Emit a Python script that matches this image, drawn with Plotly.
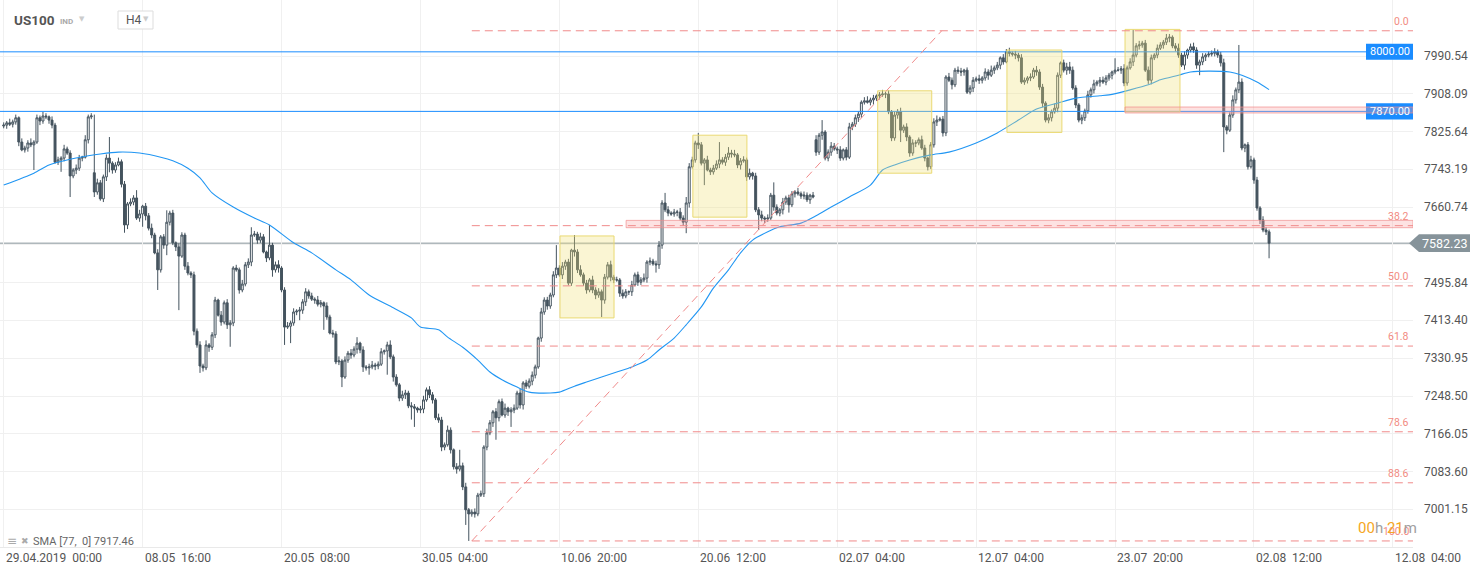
import plotly.graph_objects as go

# ---------------- data ----------------
closes = [
    7840, 7845, 7842, 7847, 7856, 7803, 7786, 7790, 7801, 7797,
    7803, 7856, 7849, 7860, 7858, 7851, 7840, 7759, 7764, 7768,
    7788, 7779, 7729, 7742, 7746, 7768, 7770, 7808, 7858, 7860,
    7694, 7714, 7679, 7727, 7768, 7757, 7742, 7753, 7760, 7711,
    7622, 7668, 7672, 7681, 7637, 7646, 7663, 7642, 7615, 7600,
    7561, 7524, 7596, 7578, 7628, 7648, 7583, 7574, 7554, 7600,
    7532, 7517, 7513, 7390, 7360, 7314, 7310, 7360, 7355, 7382,
    7458, 7425, 7410, 7452, 7404, 7408, 7528, 7524, 7480, 7493,
    7535, 7541, 7600, 7602, 7589, 7596, 7563, 7550, 7578, 7524,
    7535, 7528, 7480, 7399, 7401, 7408, 7432, 7434, 7436, 7454,
    7476, 7467, 7460, 7458, 7449, 7452, 7445, 7421, 7386, 7384,
    7323, 7325, 7290, 7327, 7342, 7338, 7351, 7364, 7349, 7312,
    7310, 7312, 7316, 7314, 7318, 7345, 7347, 7360, 7334, 7290,
    7273, 7244, 7251, 7255, 7227, 7225, 7222, 7218, 7220, 7240,
    7262, 7251, 7240, 7201, 7196, 7137, 7142, 7174, 7131, 7094,
    7089, 7096, 7050, 7000, 6991, 6995, 6991, 7032, 7035, 7137,
    7168, 7190, 7214, 7201, 7236, 7207, 7222, 7214, 7218, 7222,
    7255, 7229, 7277, 7270, 7281, 7294, 7312, 7375, 7432, 7458,
    7445, 7469, 7513, 7528, 7513, 7532, 7541, 7495, 7567, 7563,
    7524, 7513, 7495, 7480, 7502, 7480, 7469, 7476, 7458, 7508,
    7535, 7508, 7502, 7502, 7473, 7467, 7476, 7476, 7491, 7513,
    7497, 7502, 7506, 7541, 7543, 7537, 7535, 7578, 7670, 7655,
    7648, 7646, 7650, 7650, 7637, 7628, 7670, 7749, 7764, 7801,
    7797, 7757, 7764, 7742, 7738, 7746, 7755, 7764, 7759, 7770,
    7779, 7777, 7775, 7753, 7762, 7764, 7727, 7735, 7729, 7655,
    7644, 7637, 7635, 7637, 7687, 7661, 7648, 7655, 7672, 7681,
    7666, 7690, 7694, 7690, 7685, 7687, 7677, 7687, 7683, 7781,
    7818, 7825, 7768, 7781, 7794, 7788, 7786, 7768, 7786, 7770,
    7836, 7842, 7856, 7864, 7890, 7893, 7890, 7895, 7899, 7904,
    7906, 7908, 7908, 7869, 7812, 7862, 7869, 7829, 7836, 7814,
    7779, 7801, 7801, 7808, 7790, 7768, 7749, 7797, 7847, 7851,
    7853, 7823, 7945, 7938, 7928, 7960, 7958, 7956, 7960, 7912,
    7921, 7938, 7941, 7938, 7943, 7956, 7949, 7960, 7965, 7971,
    7987, 7978, 8000, 7997, 7995, 7993, 7987, 7934, 7938, 7943,
    7945, 7960, 7956, 7923, 7888, 7851, 7856, 7869, 7877, 7949,
    7976, 7960, 7967, 7960, 7921, 7884, 7851, 7856, 7871, 7906,
    7917, 7930, 7934, 7938, 7934, 7943, 7949, 7956, 7960, 7960,
    7963, 7932, 7965, 7978, 7993, 8013, 8015, 8019, 7960, 7938,
    7987, 7993, 8008, 8015, 8021, 8030, 8032, 8013, 8008, 7993,
    7971, 7993, 8004, 8011, 8004, 7971, 7978, 7989, 7993, 7995,
    7997, 8000, 7993, 7976, 7836, 7829, 7862, 7895, 7917, 7934,
    7790, 7797, 7749, 7764, 7720, 7659, 7633, 7611, 7607, 7582.23,
]
first_open = 7838
open_gaps = {30: 7736, 269: 7808}

upper_wick = [
    6,4,9,5,7,3,8,5,6,10,4,7,5,9,6,3,8,5,7,4,
    9,5,6,4,8,7,3,10,5,6,4,9,6,5,8,7,4,6,9,5,
    7,4,8,6,5,9,3,7,6,10,5,8,4,6,9,5,7,3,8,6,
    5,9,4,7,6,8,5,10,4,6,7,3,9,5,8,6,4,7,5,9,
    6,8,4,7,5,9,6,3,8,5,7,10,4,6,9,5,8,4,7,6,
    8,5,7,4,9,6,3,8,5,7,6,10,4,8,5,9,6,7,3,8,
    4,7,9,5,6,8,3,7,10,5,6,4,9,7,5,8,6,3,7,9,
    5,8,6,4,9,7,5,10,6,3,8,5,7,9,4,6,8,5,7,4,
    9,6,4,8,5,7,10,3,6,8,5,9,4,7,6,8,5,3,9,6,
    7,5,8,4,6,9,5,7,3,8,6,10,5,7,4,9,6,8,5,7,
    6,9,5,7,4,8,6,3,9,5,7,6,10,4,8,5,7,9,6,4,
    8,4,7,5,9,6,3,8,7,5,10,6,4,9,5,7,8,3,6,7,
    5,7,9,4,6,8,5,10,3,7,6,9,4,8,5,7,6,4,9,5,
    7,6,4,9,5,8,6,3,7,10,5,8,4,6,9,7,5,8,3,6,
    9,5,7,6,4,8,10,5,7,3,6,9,5,8,4,7,6,9,5,8,
    4,8,6,5,9,7,3,6,8,10,5,7,4,9,6,5,8,7,3,6,
    6,7,5,9,4,8,6,10,5,7,3,8,6,9,4,7,5,8,6,4,
    8,5,9,6,7,4,8,5,10,6,3,7,9,5,8,6,4,7,5,9,
    5,9,4,7,8,6,5,3,9,7,6,10,5,8,4,6,9,5,7,8,
    7,4,8,6,5,9,7,4,6,10,5,8,3,7,9,6,5,8,4,6,
    6,8,5,7,9,4,6,10,5,7,8,3,6,9,5,7,4,8,6,5,
]
lower_wick = [
    5,8,4,7,6,9,3,6,8,5,7,4,9,6,5,8,7,3,6,9,
    7,4,8,5,9,6,7,3,8,5,10,6,4,7,9,5,8,6,3,7,
    6,9,5,7,4,8,6,10,5,7,3,9,6,8,4,7,5,9,6,4,
    8,5,7,9,6,4,8,5,10,6,7,3,8,5,9,6,7,4,8,5,
    5,7,9,4,8,6,3,9,5,7,6,10,5,8,4,9,6,7,5,8,
    9,6,4,8,5,7,10,6,3,8,5,7,9,4,6,8,5,10,7,4,
    6,8,5,9,7,4,6,8,5,10,4,7,6,9,5,3,8,6,7,9,
    4,7,8,5,6,9,7,4,8,6,10,5,7,3,9,6,8,5,4,7,
    7,5,9,6,8,3,6,9,5,7,4,8,10,6,5,9,7,4,8,6,
    8,6,5,7,4,9,8,5,6,10,7,4,6,8,5,7,9,6,3,8,
    5,9,7,4,8,6,5,7,9,3,8,6,5,10,7,4,6,9,8,5,
    7,4,6,9,5,8,7,10,4,6,9,5,8,3,7,6,4,9,5,8,
    6,8,5,7,10,4,9,6,8,5,3,7,9,6,4,8,5,7,10,6,
    9,5,8,4,6,7,5,9,3,8,6,10,5,7,8,4,9,6,5,7,
    4,7,6,9,8,5,3,7,10,6,8,4,9,5,7,6,8,3,6,9,
    8,6,9,5,4,7,8,5,6,9,3,8,7,4,10,5,6,9,8,4,
    5,9,4,8,7,6,10,4,8,5,9,6,3,7,5,9,8,4,6,7,
    7,4,8,6,9,5,7,8,4,9,6,5,10,8,4,7,5,9,7,6,
    6,8,5,10,4,7,6,9,5,3,8,7,6,4,9,5,8,6,4,8,
    9,5,7,4,8,6,9,5,7,6,4,10,8,5,6,8,3,7,9,5,
    5,7,6,8,5,9,4,6,8,7,5,9,6,4,8,6,9,5,7,8,
]
upper_long = {30: 127, 35: 46, 44: 17, 54: 26, 82: 17, 88: 44, 117: 13, 151: 35,
              183: 50, 189: 33, 219: 22, 226: 13, 230: 22, 237: 39, 240: 13, 255: 28,
              271: 26, 353: 11, 368: 26, 374: 55, 409: 81}
lower_long = {10: 55, 19: 26, 22: 46, 30: 11, 35: 20, 40: 17, 46: 28, 51: 44, 54: 22,
              58: 118, 65: 15, 75: 48, 89: 15, 93: 39, 95: 37, 98: 20, 106: 52, 112: 22,
              119: 11, 121: 15, 127: 52, 135: 28, 136: 41, 153: 33, 154: 59, 163: 48,
              168: 33, 198: 37, 216: 17, 226: 24, 232: 48, 250: 33, 260: 17, 297: 26,
              396: 22, 404: 55, 419: 33}

sma_idx = [0, 10, 15, 21, 28, 32, 38, 45, 52, 56, 61, 65, 69, 76, 83, 88, 96, 102, 110, 115,
           121, 129, 135, 138, 144, 147, 152, 157, 161, 165, 170, 174, 181, 184, 189, 193,
           198, 203, 208, 213, 217, 222, 226, 231, 235, 240, 244, 248, 253, 257, 264, 269,
           274, 280, 287, 291, 295, 300, 307, 313, 322, 329, 336, 342, 349, 355, 363, 366,
           373, 379, 383, 389, 393, 399, 406, 410, 415, 419]
sma_val = [7709, 7735, 7753, 7764, 7773, 7777, 7781, 7779, 7770, 7762, 7746, 7725, 7692, 7661,
           7637, 7622, 7583, 7561, 7524, 7502, 7469, 7441, 7419, 7399, 7393, 7377, 7355, 7327,
           7301, 7284, 7268, 7257, 7255, 7257, 7270, 7279, 7290, 7301, 7312, 7327, 7349, 7375,
           7404, 7443, 7484, 7524, 7561, 7589, 7607, 7618, 7626, 7642, 7661, 7683, 7709, 7742,
           7753, 7764, 7775, 7781, 7801, 7823, 7851, 7875, 7888, 7899, 7904, 7906, 7917, 7928,
           7939, 7949, 7956, 7958, 7956, 7949, 7934, 7917.46]

price_ticks = [6918.70, 7001.15, 7083.60, 7166.05, 7248.50, 7330.95, 7413.40, 7495.84,
               7578.29, 7660.74, 7743.19, 7825.64, 7908.09, 7990.54]
price_labels = ["6918.70", "7001.15", "7083.60", "7166.05", "7248.50", "7330.95", "7413.40",
                "7495.84", "", "7660.74", "7743.19", "7825.64", "7908.09", "7990.54"]
time_ticks = [0, 46, 92, 138, 184, 230, 276, 322, 368, 414, 460]
time_labels = ["29.04.2019  00:00", "08.05  16:00", "20.05  08:00", "30.05  04:00",
               "10.06  20:00", "20.06  12:00", "02.07  04:00", "12.07  04:00",
               "23.07  20:00", "02.08  12:00", "12.08  04:00"]

fib_high, fib_low = 8046, 6932
fib_ratios = [0.0, 38.2, 50.0, 61.8, 78.6, 88.6, 100.0]
fib_start, fib_end = 155, 310.6

h_levels = [8000.00, 7870.00]
zones = [  # (from bar, low, high)
    (371.3, 7866.5, 7879.5),
    (206.1, 7616.0, 7632.0),
]
boxes = [  # (bar0, bar1, top, bottom)
    (184.2, 202.1, 7598, 7419),
    (228.2, 246.1, 7818, 7639),
    (289.4, 307.3, 7915, 7735),
    (332.2, 350.4, 8004, 7824),
    (371.3, 389.5, 8049, 7869),
]

# ---------------- build OHLC ----------------
n = len(closes)
idx = list(range(n))
opens = [first_open] + closes[:-1]
for k, v in open_gaps.items():
    opens[k] = v
uw = list(upper_wick)
lw = list(lower_wick)
for k, v in upper_long.items():
    uw[k] = v
for k, v in lower_long.items():
    lw[k] = v
highs = [max(o, c) + u for o, c, u in zip(opens, closes, uw)]
lows = [min(o, c) - l for o, c, l in zip(opens, closes, lw)]
last = closes[-1]

X_MIN, X_MAX = -1.225, 466.66
Y_MIN, Y_MAX = 6918.8, 8113.2
PW, PH = 1413, 547

FONT = "Roboto, 'Open Sans', Arial, sans-serif"
CANDLE = "#44535e"
BLUE = "#1a8cff"
FIB = "#f08a8a"

fig = go.Figure()
fig.add_trace(go.Candlestick(
    x=idx, open=opens, high=highs, low=lows, close=closes,
    increasing=dict(line=dict(color=CANDLE, width=1), fillcolor="#ffffff"),
    decreasing=dict(line=dict(color=CANDLE, width=1), fillcolor=CANDLE),
    whiskerwidth=0, hoverinfo="skip", showlegend=False,
))
fig.add_trace(go.Scatter(
    x=sma_idx, y=sma_val, mode="lines",
    line=dict(color="#2196f3", width=1.1, shape="spline", smoothing=0.7),
    hoverinfo="skip", showlegend=False,
))

shapes = []
annotations = []

# current price line (behind candles)
shapes.append(dict(type="line", xref="paper", yref="y", x0=0, x1=1410 / PW, y0=last, y1=last,
                   line=dict(color="#86939a", width=1), layer="below"))

# horizontal blue levels with label boxes
for lv in h_levels:
    shapes.append(dict(type="line", xref="paper", yref="y", x0=0, x1=1366 / PW, y0=lv, y1=lv,
                       line=dict(color=BLUE, width=1), layer="above"))
    shapes.append(dict(type="rect", xref="paper", yref="y", x0=1366 / PW, x1=1.0,
                       y0=lv - 17.5, y1=lv + 17.5, fillcolor=BLUE, line=dict(width=0),
                       layer="above"))
    annotations.append(dict(xref="paper", yref="y", x=1389.5 / PW, y=lv, text=f"{lv:.2f}",
                            showarrow=False, xanchor="center", yanchor="middle",
                            font=dict(family=FONT, size=11, color="#ffffff")))

# yellow boxes
for b0, b1, top, bot in boxes:
    shapes.append(dict(type="rect", xref="x", yref="y", x0=b0, x1=b1, y0=bot, y1=top,
                       fillcolor="rgba(240,226,120,0.33)",
                       line=dict(color="rgba(233,216,110,0.95)", width=1), layer="above"))

# pink zones
for z0, zlo, zhi in zones:
    shapes.append(dict(type="rect", xref="x", yref="y", x0=z0, x1=X_MAX, y0=zlo, y1=zhi,
                       fillcolor="rgba(250,160,160,0.30)",
                       line=dict(color="rgba(240,140,140,0.7)", width=1), layer="above"))

# fibonacci levels
for r in fib_ratios:
    lv = fib_high - r / 100.0 * (fib_high - fib_low)
    shapes.append(dict(type="line", xref="x", yref="y", x0=fib_start, x1=X_MAX, y0=lv, y1=lv,
                       line=dict(color=FIB, width=1, dash="8px,5px"), layer="above"))
    annotations.append(dict(xref="paper", yref="y", x=1411 / PW, y=lv, text=f"{r:.1f}",
                            showarrow=False, xanchor="right", yanchor="bottom", yshift=1,
                            font=dict(family=FONT, size=10.5, color="#f28b82")))
shapes.append(dict(type="line", xref="x", yref="y", x0=fib_start, y0=fib_low, x1=fib_end,
                   y1=fib_high, line=dict(color=FIB, width=1, dash="8px,5px"), layer="above"))

# current price tag
tag_h = 19.5
shapes.append(dict(type="path", xref="paper", yref="y",
                   path=(f"M {1409 / PW},{last} L {1419 / PW},{last + tag_h} "
                         f"L {1470 / PW},{last + tag_h} L {1470 / PW},{last - tag_h} "
                         f"L {1419 / PW},{last - tag_h} Z"),
                   fillcolor="#86939a", line=dict(width=0), layer="above"))
annotations.append(dict(xref="paper", yref="y", x=1444 / PW, y=last, text=f"{last:.2f}",
                        showarrow=False, xanchor="center", yanchor="middle",
                        font=dict(family=FONT, size=12.5, color="#ffffff")))

# price axis labels
for v, t in zip(price_ticks, price_labels):
    if not t:
        continue
    annotations.append(dict(xref="paper", yref="y", x=1.0, y=v, text=t, showarrow=False,
                            xanchor="left", yanchor="middle", xshift=9,
                            yshift=5 if v == price_ticks[0] else 0,
                            font=dict(family=FONT, size=12, color="#555555")))

# time axis labels
for v, t in zip(time_ticks, time_labels):
    annotations.append(dict(xref="x", yref="paper", x=v, y=0, text=t.replace(" ", "\u00a0"),
                            showarrow=False, xanchor="left", yanchor="top", xshift=0,
                            yshift=-2, font=dict(family=FONT, size=12, color="#555555")))

# header
def px(xp):
    return xp / PW

def py(yp):
    return 1 - yp / PH

annotations += [
    dict(xref="paper", yref="paper", x=px(12), y=py(20), text="<b>US100</b>", showarrow=False,
         xanchor="left", yanchor="middle", font=dict(family=FONT, size=13.5, color="#555555")),
    dict(xref="paper", yref="paper", x=px(58), y=py(21), text="<b>IND</b>", showarrow=False,
         xanchor="left", yanchor="middle", font=dict(family=FONT, size=8, color="#aaaaaa")),
    dict(xref="paper", yref="paper", x=px(77), y=py(19), text="▼", showarrow=False,
         xanchor="left", yanchor="middle", font=dict(family="DejaVu Sans", size=7, color="#cccccc")),
    dict(xref="paper", yref="paper", x=px(124), y=py(20), text="H4", showarrow=False,
         xanchor="left", yanchor="middle", font=dict(family=FONT, size=12, color="#555555")),
    dict(xref="paper", yref="paper", x=px(141), y=py(19), text="▼", showarrow=False,
         xanchor="left", yanchor="middle", font=dict(family="DejaVu Sans", size=7, color="#cccccc")),
    dict(xref="paper", yref="paper", x=px(5), y=py(541), text="≡", showarrow=False,
         xanchor="left", yanchor="middle", font=dict(family="DejaVu Sans", size=12, color="#aaaaaa")),
    dict(xref="paper", yref="paper", x=px(19), y=py(541), text="✖", showarrow=False,
         xanchor="left", yanchor="middle", font=dict(family="DejaVu Sans", size=9, color="#aaaaaa")),
    dict(xref="paper", yref="paper", x=px(31), y=py(541), text="SMA [77,  0] 7917.46",
         showarrow=False, xanchor="left", yanchor="middle",
         font=dict(family=FONT, size=11, color="#666666")),
    dict(xref="paper", yref="paper", x=px(1356), y=py(528),
         text=("<span style='color:#f5a623'>00</span><span style='color:#a0a0a0'>h</span> "
               "<span style='color:#f5a623'>21</span><span style='color:#a0a0a0'>m</span>"),
         showarrow=False, xanchor="left", yanchor="middle",
         font=dict(family=FONT, size=15, color="#f5a623")),
]
shapes.append(dict(type="rect", xref="paper", yref="paper", x0=px(118), x1=px(153),
                   y0=py(29), y1=py(11), fillcolor="#ffffff",
                   line=dict(color="#dddddd", width=1), layer="above"))

fig.update_layout(
    width=1482, height=574,
    margin=dict(l=0, r=69, t=0, b=27),
    paper_bgcolor="#ffffff", plot_bgcolor="#ffffff",
    showlegend=False, boxgap=0.08,
    shapes=shapes, annotations=annotations,
    xaxis=dict(range=[X_MIN, X_MAX], tickvals=time_ticks, showticklabels=False, ticks="",
               showgrid=True, gridcolor="#f0f0f0", gridwidth=1, zeroline=False,
               showline=True, linecolor="#e9e9e9", linewidth=1,
               rangeslider=dict(visible=False), fixedrange=True),
    yaxis=dict(range=[Y_MIN, Y_MAX], tickvals=price_ticks, showticklabels=False, ticks="",
               showgrid=True, gridcolor="#f0f0f0", gridwidth=1, zeroline=False,
               side="right", fixedrange=True),
)

fig.write_html(
    "out.html",
    config={"displayModeBar": False, "staticPlot": True},
    post_script="document.body.style.margin='0';document.body.style.overflow='hidden';",
)
